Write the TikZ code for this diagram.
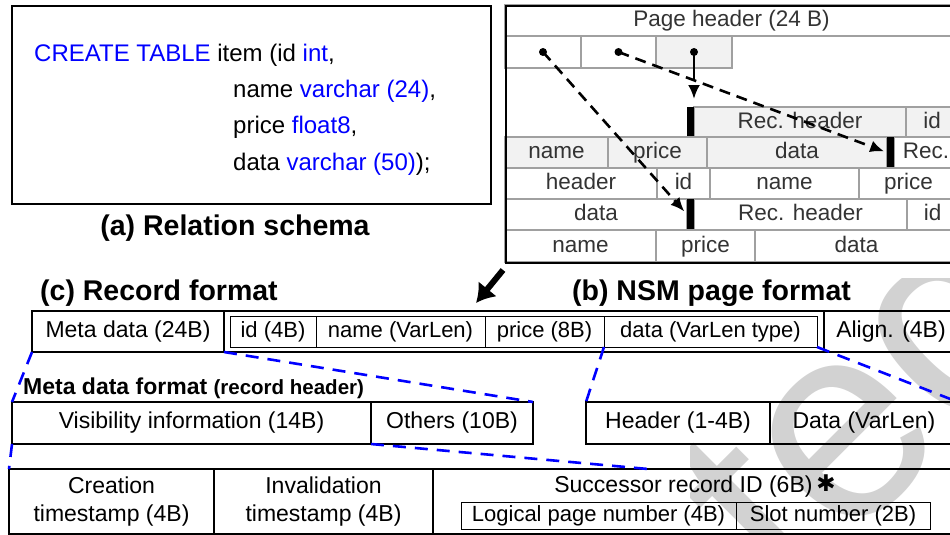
\documentclass[tikz,border=0pt]{standalone}
\usepackage{fontspec}
\setmainfont{Liberation Sans}
\newfontfamily\symfont{DejaVu Sans}
\usetikzlibrary{arrows.meta}

\definecolor{cellgray}{HTML}{F2F2F2}
\definecolor{linegray}{HTML}{A0A0A0}
\definecolor{txtgray}{HTML}{333333}
\definecolor{markgray}{HTML}{D2D2D2}

\tikzset{
    box/.style={draw, anchor=north west, inner sep=0pt, outer sep=0pt, line width=1.6pt,
        font=\fontsize{23}{28}\selectfont, align=center},
    cell/.style={box, text height=16.5pt, text depth=5pt},
    thincell/.style={cell, line width=0.9pt, font=\fontsize{22}{26}\selectfont, text height=16pt, text depth=4.5pt},
    pcell/.style={draw=linegray, anchor=north west, inner sep=0pt, outer sep=0pt, line width=1.4pt,
        text=txtgray, font=\fontsize{22.5}{26}\selectfont, text height=16pt, text depth=3.5pt},
    bar/.style={fill=black, anchor=north west, inner sep=0pt, outer sep=0pt, minimum width=7pt},
    ptr/.style={line width=2.6pt, dash pattern=on 11pt off 7pt, -{Latex[length=14pt,width=12pt]}},
    zoomline/.style={blue, line width=2.6pt, dash pattern=on 13pt off 9pt},
    ttl/.style={font=\fontsize{28.5}{32}\selectfont\bfseries, inner sep=0pt},
    sql/.style={anchor=base west, inner sep=0pt, font=\fontsize{24}{28}\selectfont},
}

\begin{document}
\begin{tikzpicture}[x=1pt, y=-1pt]
    \useasboundingbox (0,0) rectangle (950,535);
    \clip (0,0) rectangle (950,535);

    \begin{scope}
        \clip (690,278) rectangle (950,535);
        \node[rotate=45, anchor=base west, inner sep=0pt, text=markgray,
            font=\fontsize{280}{280}\selectfont] (mark) at (789,604) {ted};
    \end{scope}

    % (a) relation schema
    \node[draw, line width=2pt, anchor=north west, minimum width=479pt, minimum height=198pt] (schema) at (11,5) {};
    \node[sql] (sql1) at (34,62) {\textcolor{blue}{CREATE TABLE} item (id \textcolor{blue}{int},};
    \node[sql] (sql2) at (233,97) {name \textcolor{blue}{varchar (24)},};
    \node[sql] (sql3) at (233,133) {price \textcolor{blue}{float8},};
    \node[sql] (sql4) at (233,170) {data \textcolor{blue}{varchar (50)});};
    \node[ttl, anchor=base] (capa) at (235,235) {(a) Relation schema};

    % (b) NSM page
    \node[pcell, minimum width=453pt, minimum height=31pt] (pghdr) at (505,5) {Page header (24 B)};
    \node[pcell, minimum width=76pt, minimum height=32pt] (lp1) at (505,36) {};
    \node[pcell, minimum width=75pt, minimum height=32pt] (lp2) at (581,36) {};
    \node[pcell, fill=cellgray, minimum width=76pt, minimum height=32pt] (lp3) at (656,36) {};

    \node[pcell, fill=cellgray, minimum width=212pt, minimum height=30pt] (recA) at (694,107) {Rec. header};
    \node[pcell, fill=cellgray, minimum width=52pt, minimum height=30pt] (idA) at (906,107) {id};
    \node[bar, minimum height=30pt] (barA) at (687,107) {};

    \node[pcell, fill=cellgray, minimum width=103pt, minimum height=31pt] (nameA) at (505,137) {name};
    \node[pcell, fill=cellgray, minimum width=99pt, minimum height=31pt] (priceA) at (608,137) {price};
    \node[pcell, fill=cellgray, minimum width=180pt, minimum height=31pt] (dataA) at (707,137) {data};
    \node[pcell, minimum width=64pt, minimum height=31pt] (recB) at (894,137) {Rec.};
    \node[bar, minimum height=31pt] (barB) at (887,137) {};

    \node[pcell, minimum width=152pt, minimum height=31pt] (recBb) at (505,168) {header};
    \node[pcell, minimum width=53pt, minimum height=31pt] (idB) at (657,168) {id};
    \node[pcell, minimum width=149pt, minimum height=31pt] (nameB) at (710,168) {name};
    \node[pcell, minimum width=99pt, minimum height=31pt] (priceB) at (859,168) {price};

    \node[pcell, minimum width=182pt, minimum height=31pt] (dataB) at (505,199) {data};
    \node[pcell, minimum width=213pt, minimum height=31pt] (recC) at (694,199) {Rec. header};
    \node[pcell, minimum width=51pt, minimum height=31pt] (idC) at (907,199) {id};
    \node[bar, minimum height=31pt] (barC) at (687,199) {};

    \node[pcell, minimum width=151pt, minimum height=32pt] (nameC) at (505,230) {name};
    \node[pcell, minimum width=99pt, minimum height=32pt] (priceC) at (656,230) {price};
    \node[pcell, minimum width=203pt, minimum height=32pt] (dataC) at (755,230) {data};

    \node[draw, line width=2pt, anchor=north west, minimum width=453pt, minimum height=257pt] (page) at (505,5) {};

    \fill (lp1.center) circle (4pt) (lp2.center) circle (4pt) (lp3.center) circle (4pt);
    \draw[ptr, shorten >=4pt] (lp1.center) -- (barC.west);
    \draw[ptr, shorten >=3pt] (lp2.center) -- (barB.west);
    \draw[line width=2.6pt] (lp3.center) -- (lp3.south);
    \draw[ptr, shorten >=8pt] (lp3.south) -- (lp3.south |- barA.north);

    \coordinate (arrowend) at (476,303);
    \draw[line width=6pt, -{Latex[length=18pt,width=24pt]}] ([shift={(-2,6)}]page.south west) -- (arrowend);

    % (c) record format
    \node[ttl, anchor=base west] (capc) at (40,300) {(c) Record format};
    \node[ttl, anchor=base west] (capb) at (572,300) {(b) NSM page format};

    \node[cell, minimum width=192pt, minimum height=41pt] (meta) at (32,311) {Meta data (24B)};
    \node[cell, minimum width=600pt, minimum height=41pt] (fbody) at (224,311) {};
    \node[thincell, minimum width=86pt, minimum height=31pt] (fid) at (230,316) {id (4B)};
    \node[thincell, minimum width=169pt, minimum height=31pt] (fname) at (316,316) {name (VarLen)};
    \node[thincell, minimum width=119pt, minimum height=31pt] (fprice) at (485,316) {price (8B)};
    \node[thincell, minimum width=213pt, minimum height=31pt] (fdata) at (604,316) {data (VarLen type)};
    \node[cell, minimum width=134pt, minimum height=41pt] (align) at (824,311) {Align. (4B)};

    \node[anchor=base west, inner sep=0pt, font=\bfseries] (mflbl) at (23,394)
        {\fontsize{23}{28}\selectfont Meta data format \fontsize{20.5}{24}\selectfont(record header)};
    \node[cell, minimum width=359pt, minimum height=42pt] (vis) at (12,402) {Visibility information (14B)};
    \node[cell, minimum width=162pt, minimum height=42pt] (oth) at (371,402) {Others (10B)};
    \node[cell, minimum width=184pt, minimum height=42pt] (hdr) at (586,402) {Header (1-4B)};
    \node[cell, minimum width=188pt, minimum height=42pt] (dat) at (770,402) {Data (VarLen)};

    \node[box, minimum width=205pt, minimum height=65pt] (cre) at (9,469) {Creation\\timestamp (4B)};
    \node[box, minimum width=219pt, minimum height=65pt] (inv) at (214,469) {Invalidation\\timestamp (4B)};
    \node[box, minimum width=525pt, minimum height=65pt] (succ) at (433,469) {};
    \node[anchor=base, inner sep=0pt, font=\fontsize{23}{28}\selectfont] (succlbl) at (695,492)
        {Successor record ID (6B)\,{\symfont\bfseries\raisebox{1pt}{✱}}};
    \node[thincell, minimum width=275pt, minimum height=27pt] (lpn) at (461,502) {Logical page number (4B)};
    \node[thincell, minimum width=194pt, minimum height=27pt] (slotn) at (736,502) {Slot number (2B)};

    \coordinate (visend) at (648,469);
    \draw[zoomline] (meta.south west) -- (vis.north west);
    \draw[zoomline] (meta.south east) -- (oth.north east);
    \draw[zoomline] (fdata.south west) -- (hdr.north west);
    \draw[zoomline] (fdata.south east) -- (dat.north east);
    \draw[zoomline] (vis.south west) -- (cre.north west);
    \draw[zoomline] (vis.south east) -- (visend);
\end{tikzpicture}
\end{document}
